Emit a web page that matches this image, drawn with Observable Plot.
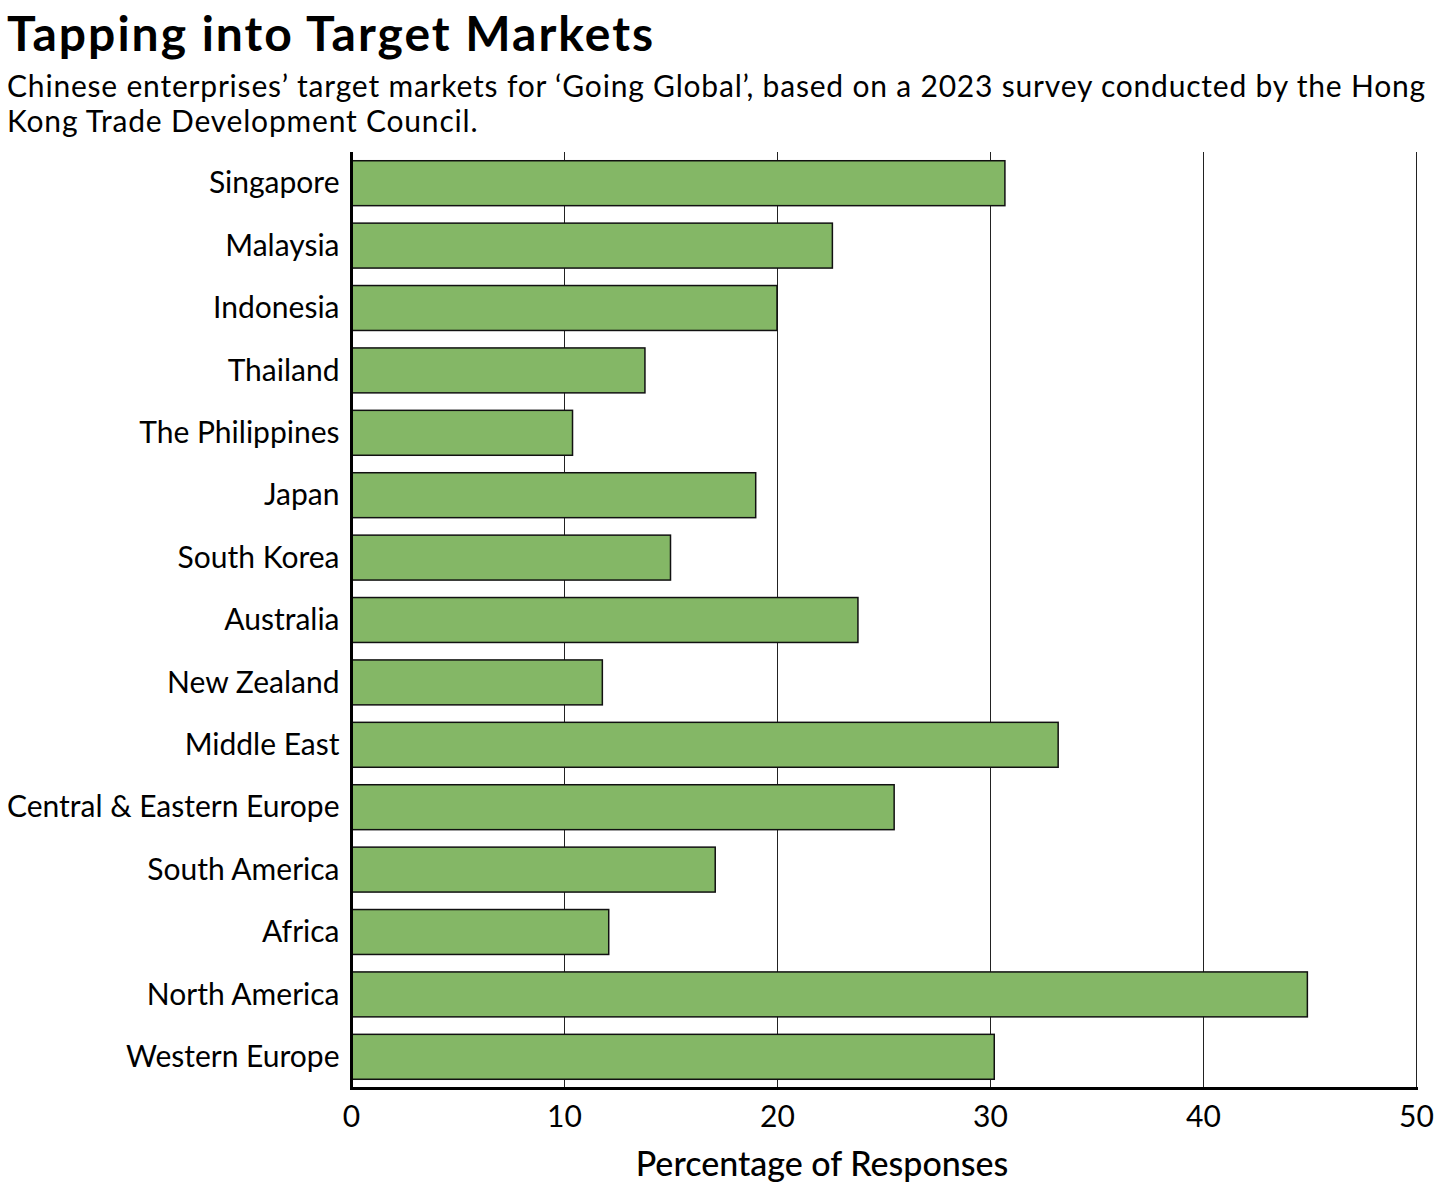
<!DOCTYPE html>
<html>
<head>
<meta charset="utf-8">
<script src="https://cdn.jsdelivr.net/npm/d3@7"></script>
<script src="https://cdn.jsdelivr.net/npm/@observablehq/plot@0.6"></script>
<style>
  body { margin: 0; background: #fff; font-family: Lato, "Noto Sans", sans-serif; color: #000; }
  #wrap { width: 1438px; }
  h1 { margin: 0; padding: 6px 0 0 7px; font-size: 48px; font-weight: 700; line-height: 54px; letter-spacing: 2px; }
  .sub { margin: 0; padding: 8px 0 0 7px; font-size: 30px; line-height: 35px; font-weight: 400; letter-spacing: 0.8px; white-space: nowrap; }
  svg { display: block; }
</style>
</head>
<body>
<div id="wrap">
  <h1>Tapping into Target Markets</h1>
  <p class="sub">Chinese enterprises’ target markets for ‘Going Global’, based on a 2023 survey conducted by the Hong<br>Kong Trade Development Council.</p>
  <div id="chart"></div>
</div>
<script>
const markets = ["Singapore", "Malaysia", "Indonesia", "Thailand", "The Philippines", "Japan", "South Korea", "Australia", "New Zealand", "Middle East", "Central & Eastern Europe", "South America", "Africa", "North America", "Western Europe"];
const percentages = [30.7, 22.6, 20.0, 13.8, 10.4, 19.0, 15.0, 23.8, 11.8, 33.2, 25.5, 17.1, 12.1, 44.9, 30.2];
const xTicks = [0, 10, 20, 30, 40, 50];

const data = markets.map((m, i) => ({market: m, value: percentages[i]}));

const chart = Plot.plot({
  width: 1438,
  height: 1049,
  marginTop: 14,
  marginBottom: 99,
  marginLeft: 351,
  marginRight: 22,
  style: {fontFamily: "Lato, 'Noto Sans', sans-serif", fontSize: "30px", color: "#000", background: "#fff"},
  x: {domain: [0, 50], ticks: xTicks, label: null},
  y: {domain: markets, paddingInner: 0.28, paddingOuter: 0.14, round: false, label: null},
  marks: [
    Plot.ruleX(xTicks, {stroke: "#222", strokeWidth: 1}),
    Plot.barX(data, {x: "value", y: "market", fill: "#84b766", stroke: "#111", strokeWidth: 1.5}),
    Plot.ruleX([0], {stroke: "#000", strokeWidth: 3}),
    Plot.frame({anchor: "bottom", stroke: "#000", strokeWidth: 3}),
    Plot.axisX({ticks: xTicks, tickSize: 0, tickPadding: 17, fontSize: 30, label: null}),
    Plot.axisY({tickSize: 0, tickPadding: 12, fontSize: 30, label: null, style: {letterSpacing: "0.5px"}}),
    Plot.text(["Percentage of Responses"], {frameAnchor: "bottom", dx: -62, dy: 87, fontSize: 34, fontWeight: 500, style: {letterSpacing: "0.6px"}})
  ]
});
document.getElementById("chart").appendChild(chart);
</script>
</body>
</html>
